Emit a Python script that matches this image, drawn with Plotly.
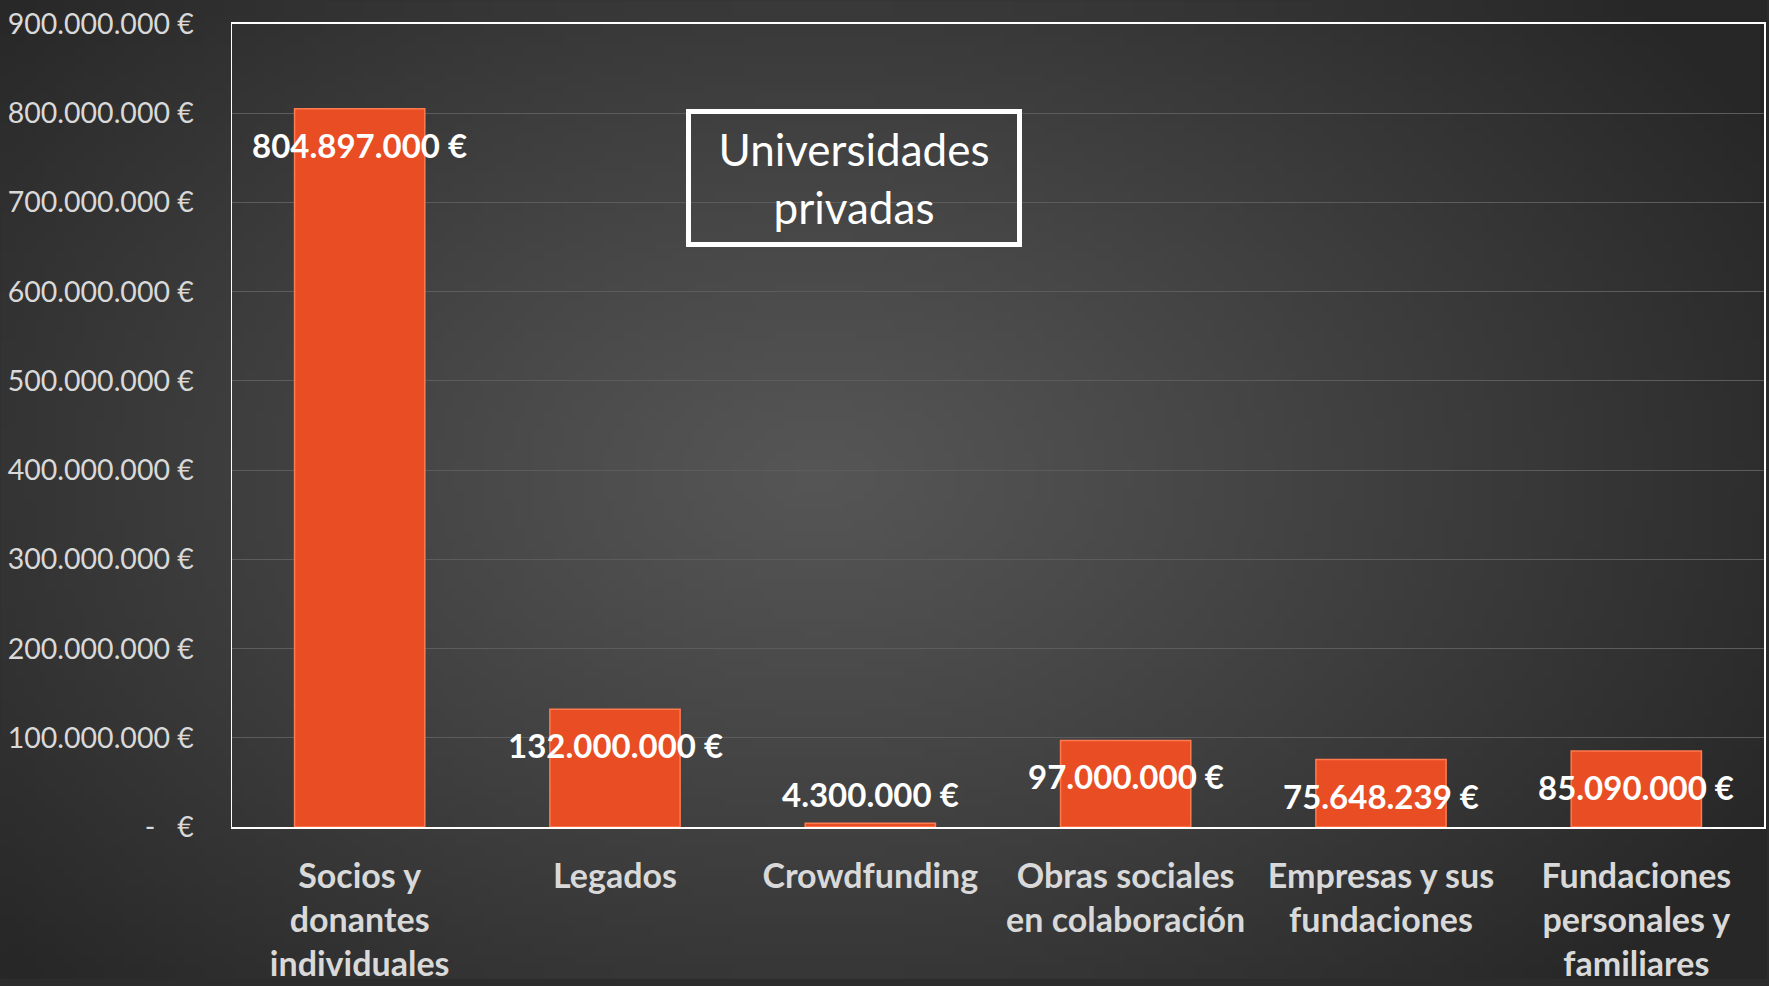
import base64, struct, zlib
import numpy as np
import plotly.graph_objects as go

categories = ["Socios y<br>donantes<br>individuales", "Legados", "Crowdfunding",
              "Obras sociales<br>en colaboración", "Empresas y sus<br>fundaciones",
              "Fundaciones<br>personales y<br>familiares"]
values = [804897000, 132000000, 4300000, 97000000, 75648239, 85090000]
tick_values = [0, 100000000, 200000000, 300000000, 400000000, 500000000,
               600000000, 700000000, 800000000, 900000000]
title_text = "Universidades<br>privadas"

W, H = 1769, 986
ML, MR, MT, MB = 232, 3, 24, 153


def fmt(v):
    return f"{v:,}".replace(",", ".") + " €"


tick_text = ["-   €" if v == 0 else fmt(v) for v in tick_values]


# background radial gradient as PNG data URI
def make_bg(w=177, h=99):
    yy, xx = np.mgrid[0:h, 0:w]
    cx, cy = 0.46 * w, 0.48 * h
    r = np.sqrt(((xx - cx) / (w * 0.62)) ** 2 + ((yy - cy) / (h * 0.75)) ** 2)
    r = np.clip(r, 0, 1)
    c = (0x56 - (0x56 - 0x27) * r ** 1.1).astype(np.uint8)
    arr = np.stack([c, c, c], axis=-1)
    raw = b"".join(b"\x00" + arr[i].tobytes() for i in range(h))

    def chunk(t, d):
        return struct.pack(">I", len(d)) + t + d + struct.pack(">I", zlib.crc32(t + d) & 0xffffffff)

    png = b"\x89PNG\r\n\x1a\n" + chunk(b"IHDR", struct.pack(">IIBBBBB", w, h, 8, 2, 0, 0, 0)) \
        + chunk(b"IDAT", zlib.compress(raw, 9)) + chunk(b"IEND", b"")
    return "data:image/png;base64," + base64.b64encode(png).decode()


pw = W - ML - MR
ph = H - MT - MB

fig = go.Figure()
fig.add_trace(go.Bar(
    x=categories, y=values,
    marker=dict(color="#E84D24", line=dict(color="#FF7A4F", width=1.5)),
    width=0.51, hoverinfo="skip",
))

annotations = []
for c, v in zip(categories, values):
    annotations.append(dict(
        x=c, y=v, text=fmt(v), showarrow=False, xanchor="center", yanchor="middle",
        yshift=-36 if v > 20000000 else 29,
        font=dict(family="Lato", size=33, color="#FFFFFF", weight="bold"),
    ))
annotations.append(dict(
    xref="paper", yref="paper", x=(855 - ML) / pw, y=(H - MB - 179) / ph,
    text=title_text, showarrow=False, xanchor="center", yanchor="middle",
    font=dict(family="Lato", size=44, color="#FFFFFF"),
    bordercolor="#FFFFFF", borderwidth=5, borderpad=0, width=326, height=128,
    bgcolor="rgba(0,0,0,0)",
))

fig.update_layout(
    width=W, height=H,
    margin=dict(l=ML, r=MR, t=MT, b=MB),
    paper_bgcolor="#2C2C2C",
    plot_bgcolor="rgba(0,0,0,0)",
    showlegend=False,
    bargap=0.49,
    annotations=annotations,
    images=[dict(source=make_bg(), xref="paper", yref="paper",
                 x=-ML / pw, y=1 + MT / ph, sizex=W / pw, sizey=H / ph,
                 xanchor="left", yanchor="top", sizing="stretch", layer="below")],
)
fig.update_yaxes(
    range=[0, 900000000], tickvals=tick_values, ticktext=tick_text,
    showgrid=True, gridcolor="#5C5C5C", gridwidth=1,
    showline=True, linecolor="#FFFFFF", linewidth=1.5, mirror=True,
    zeroline=False, ticks="", ticklabelstandoff=31,
    tickfont=dict(family="Lato", size=28.5, color="#D9D9D9"),
)
fig.update_xaxes(
    showline=True, linecolor="#FFFFFF", linewidth=2, mirror=True,
    showgrid=False, ticks="", ticklabelstandoff=18,
    tickfont=dict(family="Lato", size=34, color="#D9D9D9", weight="bold"),
)

fig.write_html(
    "out.html",
    config={"displayModeBar": False, "staticPlot": True},
    post_script=("document.body.style.margin='0';"
                 "document.body.style.overflow='hidden';"
                 "document.documentElement.style.overflow='hidden';"),
)
